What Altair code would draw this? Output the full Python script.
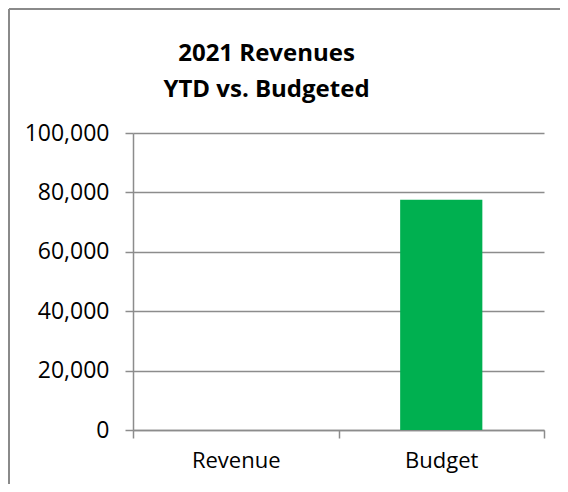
import altair as alt
import pandas as pd

categories = ["Revenue", "Budget"]
values = [0, 77500]
title_lines = ["2021 Revenues", "YTD vs. Budgeted"]
y_ticks = [0, 20000, 40000, 60000, 80000, 100000]

df = pd.DataFrame({"category": categories, "value": values})

FONT = "Open Sans"
GRAY = "#8c8c8c"
BORDER = "#8a8a8a"

bars = alt.Chart(df).mark_bar(color="#00B050", width=alt.RelativeBandSize(0.4)).encode(
    x=alt.X("category:N", sort=categories, title=None,
            scale=alt.Scale(paddingInner=0, paddingOuter=0),
            axis=alt.Axis(labelAngle=0, tickBand="extent", tickSize=8,
                          domainColor=GRAY, tickColor=GRAY, domainWidth=1.5, tickWidth=1.5,
                          labelFont=FONT, labelFontSize=22, labelColor="#000000",
                          labelPadding=12, grid=False)),
    y=alt.Y("value:Q", title=None,
            scale=alt.Scale(domain=[0, 100000], nice=False),
            axis=alt.Axis(values=y_ticks, format=",d", tickSize=8,
                          domainColor=GRAY, tickColor=GRAY, domainWidth=1.5, tickWidth=1.5,
                          gridColor=GRAY, gridWidth=1.5,
                          labelFont=FONT, labelFontSize=23, labelColor="#000000",
                          labelPadding=16)),
)

frame = alt.Data(values=[{"k": 1}])
top_edge = alt.Chart(frame).mark_rule(stroke=BORDER, strokeWidth=2, clip=False).encode(
    x=alt.value(-124), x2=alt.value(430), y=alt.value(-124),
)
left_edge = alt.Chart(frame).mark_rule(stroke=BORDER, strokeWidth=2, clip=False).encode(
    x=alt.value(-124), y=alt.value(-124), y2=alt.value(360),
)

chart = alt.layer(top_edge, left_edge, bars).properties(
    width=411, height=297,
    autosize=alt.AutoSizeParams(type="none"),
    padding={"left": 125, "top": 125, "right": 16, "bottom": 54},
    title=alt.TitleParams(title_lines, font=FONT, fontSize=24, fontWeight="bold",
                          color="#000000", anchor="middle", dx=-72, offset=-118,
                          baseline="bottom", lineHeight=36),
).configure_view(stroke=None)

chart.save("out.html", embed_options={"renderer": "svg", "actions": False})
